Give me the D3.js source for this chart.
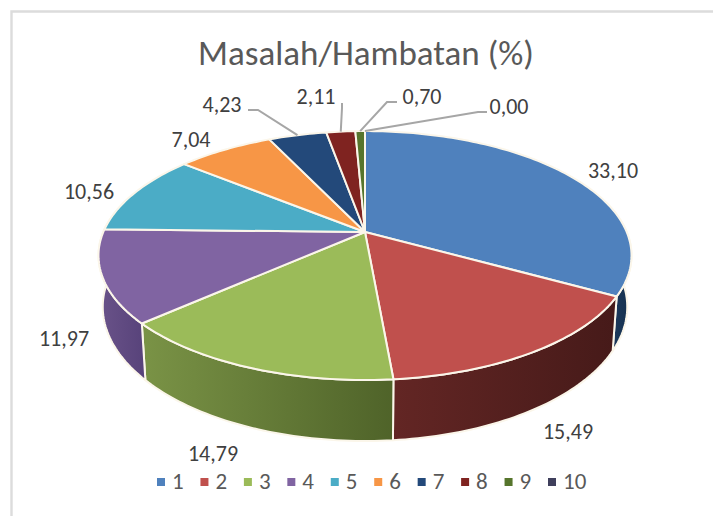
<!DOCTYPE html>
<html>
<head>
<meta charset="utf-8">
<script src="https://cdn.jsdelivr.net/npm/d3@7"></script>
<style>
  html, body { margin: 0; padding: 0; background: #fff; }
  svg { display: block; }
  text { font-family: Calibri, Carlito, Lato, "Open Sans", sans-serif; }
</style>
</head>
<body>
<div id="chart"></div>
<script>
const title = "Masalah/Hambatan (%)";
const categories = ["1", "2", "3", "4", "5", "6", "7", "8", "9", "10"];
const values = [33.10, 15.49, 14.79, 11.97, 10.56, 7.04, 4.23, 2.11, 0.70, 0.00];
const labels = ["33,10", "15,49", "14,79", "11,97", "10,56", "7,04", "4,23", "2,11", "0,70", "0,00"];
const colors = ["#4f81bd", "#c0504d", "#9bbb59", "#8064a2", "#4bacc6", "#f79646", "#23497a", "#7f2320", "#56752c", "#3f3f5c"];
const wallLight = ["#1f3d61", "#632624", "#7a9346", "#6a5389", "#2f7f95", "#b86d2d", "#16304f", "#551716", "#3b4f1d", "#1f2638"];
const wallDark = ["#16304f", "#461a19", "#4f6329", "#57427a", "#1f5f70", "#8c5220", "#102440", "#3d100f", "#2c3b15", "#151a28"];

const width = 713, height = 516;

// label centres, and the leader line start and bend (null = no leader)
const labelPos = [[613, 173], [568, 434], [213, 456], [64, 341], [89, 194], [191, 142], [222, 107], [316, 99], [422, 99], [509, 109]];
const leaderFrom = [null, null, null, null, null, null, [248, 110], [342, 103], [397, 102], [487, 112]];
const leaderBend = [null, null, null, null, null, null, [258, 110], [342, 108], [387, 102], [478, 112]];

const svg = d3.select("#chart").append("svg")
  .attr("width", width)
  .attr("height", height);

// frame
svg.append("path")
  .attr("d", "M11.5,516 V11.5 H713")
  .attr("fill", "none")
  .attr("stroke", "#dcdcdc")
  .attr("stroke-width", 2.4);

svg.append("text")
  .attr("x", 366)
  .attr("y", 65)
  .attr("text-anchor", "middle")
  .attr("font-size", 35)
  .attr("fill", "#595959")
  .text(title);

// tilted disc: circle seen in perspective, apex of slices is not the ellipse centre
const cx = 365, cy = 232, A = 261.7, B = 120, k = 0.189, depth = 49.5, shrink = 0.984;

function project(a, lower) {
  const u = Math.sin(a), v = -Math.cos(a);
  const w = 1 - k * v;
  const x = A * u / w, y = B * v / w;
  if (!lower) return [cx + x, cy + y];
  return [cx + x * shrink, cy + y + depth / w];
}

function arcPoints(a0, a1, lower) {
  const n = Math.max(2, Math.ceil(Math.abs(a1 - a0) / 0.02));
  return d3.range(n + 1).map(i => project(a0 + (a1 - a0) * i / n, lower));
}

const line = d3.line();
const pie = d3.pie().sort(null).value(d => d)(values);

const defs = svg.append("defs");
pie.forEach((d, i) => {
  const g = defs.append("linearGradient").attr("id", "wall" + i);
  g.append("stop").attr("offset", "0%").attr("stop-color", wallLight[i]);
  g.append("stop").attr("offset", "100%").attr("stop-color", wallDark[i]);
});

// side walls, the top face is drawn over whatever is hidden
const wallStart = Math.PI * 0.42, wallEnd = Math.PI * 1.6;
svg.append("g").selectAll("path")
  .data(pie.filter(d => d.endAngle > wallStart && d.startAngle < wallEnd && d.endAngle > d.startAngle))
  .join("path")
  .attr("d", d => {
    const a0 = Math.max(d.startAngle, wallStart), a1 = Math.min(d.endAngle, wallEnd);
    return line(arcPoints(a0, a1, false).concat(arcPoints(a1, a0, true))) + "Z";
  })
  .attr("fill", d => "url(#wall" + d.index + ")")
  .attr("stroke", "#fbf6ea")
  .attr("stroke-width", 2)
  .attr("stroke-linejoin", "round");

// top face
svg.append("g").selectAll("path")
  .data(pie.filter(d => d.endAngle > d.startAngle))
  .join("path")
  .attr("d", d => line([[cx, cy]].concat(arcPoints(d.startAngle, d.endAngle, false))) + "Z")
  .attr("fill", d => colors[d.index])
  .attr("stroke", "#fbf6ea")
  .attr("stroke-width", 2)
  .attr("stroke-linejoin", "round");

// leader lines
svg.append("g").selectAll("path")
  .data(pie.filter(d => leaderFrom[d.index]))
  .join("path")
  .attr("d", d => {
    const mid = (d.startAngle + d.endAngle) / 2;
    return line([leaderFrom[d.index], leaderBend[d.index], project(mid, false)]);
  })
  .attr("fill", "none")
  .attr("stroke", "#a6a6a6")
  .attr("stroke-width", 2);

svg.append("g").selectAll("text")
  .data(labels)
  .join("text")
  .attr("x", (d, i) => labelPos[i][0])
  .attr("y", (d, i) => labelPos[i][1])
  .attr("text-anchor", "middle")
  .attr("dominant-baseline", "middle")
  .attr("font-size", 22)
  .attr("fill", "#404040")
  .text(d => d);

// legend
const legendX = d3.scalePoint().domain(categories).range([157, 548]);
const legend = svg.append("g").selectAll("g")
  .data(categories)
  .join("g")
  .attr("transform", d => `translate(${legendX(d)},482)`);
legend.append("rect")
  .attr("x", 0).attr("y", -4)
  .attr("width", 8).attr("height", 8)
  .attr("fill", (d, i) => colors[i]);
legend.append("text")
  .attr("x", 15)
  .attr("y", 2)
  .attr("dominant-baseline", "middle")
  .attr("font-size", 23)
  .attr("fill", "#595959")
  .text(d => d);
</script>
</body>
</html>
